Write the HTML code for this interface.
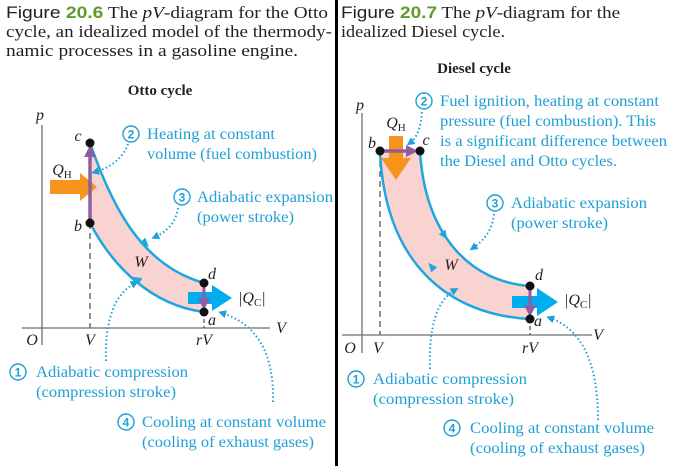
<!DOCTYPE html>
<html><head><meta charset="utf-8"><style>
html,body{margin:0;padding:0;background:#fff;}
svg{display:block;}
text{font-family:"Liberation Serif","Times New Roman",serif;}
.cap{font-size:17px;fill:#231f20;}
.sans{font-family:"Liberation Sans",Arial,sans-serif;}
.ann{font-size:16px;fill:#1e9fd6;}
.lbl{font-style:italic;font-size:16px;fill:#231f20;}
.num{font-family:"Liberation Sans",Arial,sans-serif;font-weight:bold;font-size:12px;fill:#1e9fd6;}
.ttl{font-weight:bold;font-size:15px;fill:#231f20;}
</style></head><body>
<svg id="fig" width="674" height="466" viewBox="0 0 674 466">
<defs>
<marker id="pa" markerUnits="userSpaceOnUse" markerWidth="12" markerHeight="12" refX="6" refY="6" orient="auto"><path d="M0,0 L12,6 L0,12 z" fill="#8e5ea2"/></marker>
<marker id="da" markerUnits="userSpaceOnUse" markerWidth="8" markerHeight="8" refX="4" refY="4" orient="auto"><path d="M0,0 L8,4 L0,8 z" fill="#1e9fd6"/></marker>
</defs>
<text class="cap" x="6" y="18" textLength="322" lengthAdjust="spacingAndGlyphs"><tspan class="sans">Figure </tspan><tspan class="sans" font-weight="bold" fill="#5f9a2c">20.6</tspan> The <tspan font-style="italic">pV</tspan>-diagram for the Otto</text>
<text class="cap" x="6" y="37" textLength="326" lengthAdjust="spacingAndGlyphs">cycle, an idealized model of the thermody-</text>
<text class="cap" x="6" y="56" textLength="292" lengthAdjust="spacingAndGlyphs">namic processes in a gasoline engine.</text>
<rect x="335" y="0" width="3" height="466" fill="#000"/>
<text class="cap" x="341" y="18" textLength="279" lengthAdjust="spacingAndGlyphs"><tspan class="sans">Figure </tspan><tspan class="sans" font-weight="bold" fill="#5f9a2c">20.7</tspan> The <tspan font-style="italic">pV</tspan>-diagram for the</text>
<text class="cap" x="341" y="37" textLength="164" lengthAdjust="spacingAndGlyphs">idealized Diesel cycle.</text>
<text class="ttl" x="160" y="95" text-anchor="middle">Otto cycle</text>
<text class="ttl" x="474" y="73" text-anchor="middle">Diesel cycle</text>
<g id="otto"></g>
<g id="diesel"></g>
</svg>
<script>
const ottoPoints = {a:[204,312], b:[90,223], c:[90,143], d:[204,283]};
const dieselPoints = {a:[530,319], b:[380,151], c:[420,151], d:[530,286]};
const NS='http://www.w3.org/2000/svg';
function mk(parent,tag,attrs,text){const e=document.createElementNS(NS,tag);for(const k in attrs)e.setAttribute(k,attrs[k]);if(text!==undefined)e.textContent=text;parent.appendChild(e);return e;}
function drawAxes(g,ox,oy,x0,x1,yTop,yBot){
  let ax=mk(g,'line',{x1:x0,y1:oy,x2:x1,y2:oy,stroke:'#6d6e71','stroke-width':1.3});
  
  
  let ay=mk(g,'line',{x1:ox,y1:yTop,x2:ox,y2:yBot,stroke:'#6d6e71','stroke-width':1.3});
  
  
}
function label(g,x,y,t,name,anchor){
  let e=mk(g,'text',{x:x,y:y,class:'lbl','text-anchor':anchor||'middle'},t);
  
  
  return e;
}
function ann(g,cx,cy,n,lines,xs,lens,name){
  let c=mk(g,'circle',{cx:cx,cy:cy,r:8,fill:'#fff',stroke:'#1e9fd6','stroke-width':1.4});
  
  
  mk(g,'text',{x:cx,y:cy+4.3,class:'num','text-anchor':'middle'},String(n));
  lines.forEach((t,i)=>{
    let e=mk(g,'text',{x:xs[i],y:cy+5+i*20,class:'ann',textLength:lens[i],lengthAdjust:'spacingAndGlyphs'},t);
    
    
  });
}
function dotted(g,d,name){
  let e=mk(g,'path',{d:d,fill:'none',stroke:'#1e9fd6','stroke-width':2,'stroke-dasharray':'1.5 2.5','marker-end':'url(#da)'});
  
  
}
function dot(g,p,name){
  let e=mk(g,'circle',{cx:p[0],cy:p[1],r:4.5,fill:'#111'});
  
  
}
function dirArrow(g,x,y,ang,name){
  let e=mk(g,'path',{d:'M-5,-4 L4,0 L-5,4 z',fill:'#1ea6e0',transform:'translate('+x+','+y+') rotate('+ang+')'});
  
  
}
// ---------- Otto ----------
(function(){
  const g=document.getElementById('otto'),P=ottoPoints;
  drawAxes(g,42,328,22,270,125,345);
  let ds=mk(g,'line',{x1:P.b[0],y1:P.b[1],x2:P.b[0],y2:328,stroke:'#555','stroke-width':1.3,'stroke-dasharray':'6 4'});
  
  
  let ds2=mk(g,'line',{x1:P.a[0],y1:P.a[1],x2:P.a[0],y2:328,stroke:'#555','stroke-width':1.3,'stroke-dasharray':'4 3'});
  
  
  const up='112,205 140,265', lo='112,265 150,305';
  let f=mk(g,'path',{d:'M'+P.c+' C'+up+' '+P.d+' L'+P.a+' C150,305 112,265 '+P.b+' Z',fill:'#f9d3cf'});
  
  
  let u=mk(g,'path',{d:'M'+P.c+' C'+up+' '+P.d,fill:'none',stroke:'#1ea6e0','stroke-width':2.5});
  
  
  let l=mk(g,'path',{d:'M'+P.b+' C'+lo+' '+P.a,fill:'none',stroke:'#1ea6e0','stroke-width':2.5});
  
  
  dirArrow(g,146,244,45,'expansion-direction');
  dirArrow(g,136,279,-150,'compression-direction');
  let oa=mk(g,'path',{d:'M50,180 L80,180 L80,173 L97,187 L80,201 L80,194 L50,194 Z',fill:'#f7941d'});
  
  
  let ba=mk(g,'path',{d:'M188,292 L212,292 L212,285 L232,298 L212,311 L212,304 L188,304 Z',fill:'#00aeef'});
  
  
  let pv=mk(g,'line',{x1:P.b[0],y1:P.b[1],x2:P.c[0],y2:P.c[1]+8,stroke:'#8e5ea2','stroke-width':3.5,'marker-end':'url(#pa)'});
  
  
  let pd=mk(g,'line',{x1:P.d[0],y1:P.d[1],x2:P.a[0],y2:P.a[1]-8,stroke:'#8e5ea2','stroke-width':3,'marker-end':'url(#pa)'});
  
  
  ['a','b','c','d'].forEach(k=>dot(g,P[k],'state-'+k));
  label(g,78,141,'c','label-c');label(g,78,231,'b','label-b');
  label(g,212,279,'d','label-d');label(g,212,325,'a','label-a');
  let qh=label(g,62,175,'Q','qh-label');mk(qh,'tspan',{'font-style':'normal','font-size':11,dy:3},'H');
  let qc=label(g,238,303,'|Q','qc-label','start');mk(qc,'tspan',{'font-style':'normal','font-size':11,dy:3},'C');mk(qc,'tspan',{dy:-3},'|');
  label(g,141,267,'W','work-label');
  label(g,40,120,'p','p-axis-title');label(g,281,333,'V','v-axis-title');
  label(g,32,345,'O','origin-label');label(g,90,345,'V','v-tick');label(g,204,345,'rV','rv-tick');
  ann(g,131,134,2,['Heating at constant','volume (fuel combustion)'],[147,147],[128,170],'step-2');
  ann(g,182,197,3,['Adiabatic expansion','(power stroke)'],[197,197],[136,97],'step-3');
  ann(g,18,372,1,['Adiabatic compression','(compression stroke)'],[36,36],[152,140],'step-1');
  ann(g,126,422,4,['Cooling at constant volume','(cooling of exhaust gases)'],[142,142],[184,172],'step-4');
  dotted(g,'M128,144 Q120,165 95,172','leader-2');
  dotted(g,'M178,208 Q175,228 155,237','leader-3');
  dotted(g,'M106,361 Q104,300 135,283','leader-1');
  dotted(g,'M273,402 Q275,330 222,313','leader-4');
})();
// ---------- Diesel ----------
(function(){
  const g=document.getElementById('diesel'),P=dieselPoints;
  drawAxes(g,362,335,342,592,113,353);
  let ds=mk(g,'line',{x1:P.b[0],y1:P.b[1],x2:P.b[0],y2:335,stroke:'#555','stroke-width':1.3,'stroke-dasharray':'6 4'});
  
  
  let ds2=mk(g,'line',{x1:P.a[0],y1:P.a[1],x2:P.a[0],y2:335,stroke:'#555','stroke-width':1.3,'stroke-dasharray':'4 3'});
  
  
  const d='M'+P.b+' L'+P.c+' C425,235 470,282 '+P.d+' L'+P.a+' C450,315 385,265 '+P.b+' Z';
  let f=mk(g,'path',{d:d,fill:'#f9d3cf'});
  
  
  let u=mk(g,'path',{d:'M'+P.c+' C425,235 470,282 '+P.d,fill:'none',stroke:'#1ea6e0','stroke-width':2.5});
  
  
  let l=mk(g,'path',{d:'M'+P.b+' C385,265 450,315 '+P.a,fill:'none',stroke:'#1ea6e0','stroke-width':2.5});
  
  
  dirArrow(g,445,236,55,'expansion-direction');
  dirArrow(g,431,266,-130,'compression-direction');
  let oa=mk(g,'path',{d:'M389,136 L403,136 L403,158 L411,158 L396,180 L381,158 L389,158 Z',fill:'#f7941d'});
  
  
  let ba=mk(g,'path',{d:'M512,296 L537,296 L537,288 L558,302 L537,316 L537,308 L512,308 Z',fill:'#00aeef'});
  
  
  let ph=mk(g,'line',{x1:P.b[0],y1:P.b[1],x2:P.c[0]-8,y2:P.c[1],stroke:'#8e5ea2','stroke-width':3.5,'marker-end':'url(#pa)'});
  
  
  let pd=mk(g,'line',{x1:P.d[0],y1:P.d[1],x2:P.a[0],y2:P.a[1]-8,stroke:'#8e5ea2','stroke-width':3,'marker-end':'url(#pa)'});
  
  
  ['a','b','c','d'].forEach(k=>dot(g,P[k],'state-'+k));
  label(g,372,148,'b','label-b');label(g,426,145,'c','label-c');
  label(g,539,280,'d','label-d');label(g,538,326,'a','label-a');
  let qh=label(g,396,128,'Q','qh-label');mk(qh,'tspan',{'font-style':'normal','font-size':11,dy:3},'H');
  let qc=label(g,564,305,'|Q','qc-label','start');mk(qc,'tspan',{'font-style':'normal','font-size':11,dy:3},'C');mk(qc,'tspan',{dy:-3},'|');
  label(g,451,270,'W','work-label');
  label(g,360,110,'p','p-axis-title');label(g,598,340,'V','v-axis-title');
  label(g,350,353,'O','origin-label');label(g,378,353,'V','v-tick');label(g,530,353,'rV','rv-tick');
  ann(g,424,101,2,['Fuel ignition, heating at constant','pressure (fuel combustion). This','is a significant difference between','the Diesel and Otto cycles.'],[440,440,440,440],[219,216,227,177],'step-2');
  ann(g,495,203,3,['Adiabatic expansion','(power stroke)'],[511,511],[136,97],'step-3');
  ann(g,356,379,1,['Adiabatic compression','(compression stroke)'],[373,373],[154,141],'step-1');
  ann(g,452,428,4,['Cooling at constant volume','(cooling of exhaust gases)'],[470,470],[184,175],'step-4');
  dotted(g,'M422,112 Q420,136 410,143','leader-2');
  dotted(g,'M494,214 Q492,235 473,248','leader-3');
  dotted(g,'M430,369 Q428,305 455,290','leader-1');
  dotted(g,'M598,420 Q598,335 550,318','leader-4');
})();
</script>
</body></html>
